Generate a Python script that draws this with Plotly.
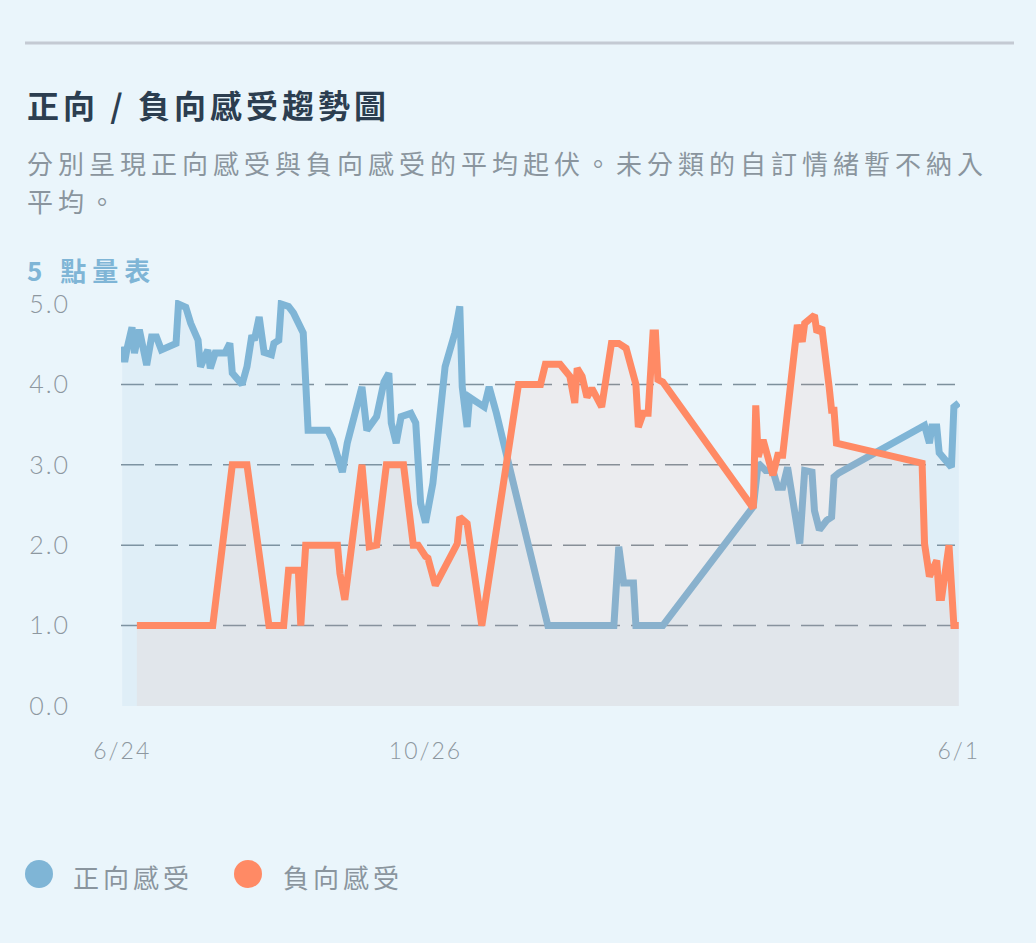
import plotly.graph_objects as go

# ---------------- data ----------------
pos_dates = [
    "2024-06-24", "2024-06-25", "2024-06-26", "2024-06-28", "2024-06-29", "2024-07-01",
    "2024-07-04", "2024-07-06", "2024-07-08", "2024-07-10", "2024-07-16", "2024-07-17",
    "2024-07-20", "2024-07-22", "2024-07-25", "2024-07-26", "2024-07-29", "2024-07-30",
    "2024-08-01", "2024-08-05", "2024-08-07", "2024-08-08", "2024-08-12", "2024-08-14",
    "2024-08-16", "2024-08-17", "2024-08-19", "2024-08-21", "2024-08-24", "2024-08-25",
    "2024-08-27", "2024-08-28", "2024-08-31", "2024-09-02", "2024-09-06", "2024-09-08",
    "2024-09-16", "2024-09-18", "2024-09-22", "2024-09-24", "2024-09-30", "2024-10-02",
    "2024-10-06", "2024-10-09", "2024-10-11", "2024-10-12", "2024-10-14", "2024-10-16",
    "2024-10-20", "2024-10-22", "2024-10-24", "2024-10-26", "2024-10-29", "2024-11-03",
    "2024-11-05", "2024-11-07", "2024-11-09", "2024-11-10", "2024-11-12", "2024-11-13",
    "2024-11-16", "2024-11-19", "2024-11-21", "2024-11-24", "2024-12-15", "2025-01-11",
    "2025-01-13", "2025-01-15", "2025-01-19", "2025-01-20", "2025-01-31", "2025-03-09",
    "2025-03-11", "2025-03-14", "2025-03-17", "2025-03-19", "2025-03-21", "2025-03-23",
    "2025-03-28", "2025-03-30", "2025-04-02", "2025-04-03", "2025-04-05", "2025-04-08",
    "2025-04-10", "2025-04-11", "2025-04-13", "2025-05-18", "2025-05-20", "2025-05-21",
    "2025-05-23", "2025-05-24", "2025-05-29", "2025-05-30", "2025-06-01",
]
pos_values = [
    4.47, 4.28, 4.45, 4.71, 4.39, 4.68,
    4.24, 4.59, 4.59, 4.43, 4.51, 5.0,
    4.96, 4.76, 4.55, 4.22, 4.43, 4.20,
    4.39, 4.39, 4.51, 4.14, 4.0, 4.22,
    4.61, 4.55, 4.84, 4.40, 4.37, 4.51,
    4.55, 5.0, 4.97, 4.89, 4.64, 3.43,
    3.43, 3.31, 2.91, 3.27, 3.97, 3.43,
    3.6, 4.03, 4.14, 3.52, 3.27, 3.6,
    3.64, 3.52, 2.52, 2.28, 2.77, 4.22,
    4.43, 4.64, 4.97, 3.97, 3.47, 3.84,
    3.78, 3.72, 3.97, 3.64, 1.0, 1.0,
    1.98, 1.53, 1.53, 1.0, 1.0, 2.48,
    3.02, 2.93, 2.93, 2.72, 2.72, 2.97,
    2.02, 2.93, 2.91, 2.43, 2.19, 2.31,
    2.35, 2.85, 2.9, 3.49, 3.27, 3.47,
    3.47, 3.15, 2.97, 3.72, 3.77,
]

neg_dates = [
    "2024-06-30", "2024-07-31", "2024-08-08", "2024-08-14", "2024-08-23", "2024-08-29",
    "2024-08-31", "2024-09-04", "2024-09-05", "2024-09-07", "2024-09-20", "2024-09-21",
    "2024-09-23", "2024-09-30", "2024-10-03", "2024-10-06", "2024-10-10", "2024-10-17",
    "2024-10-21", "2024-10-23", "2024-10-26", "2024-10-27", "2024-10-30", "2024-11-08",
    "2024-11-09", "2024-11-12", "2024-11-18", "2024-12-03", "2024-12-12", "2024-12-14",
    "2024-12-20", "2024-12-24", "2024-12-26", "2024-12-27", "2024-12-29", "2024-12-31",
    "2025-01-02", "2025-01-06", "2025-01-10", "2025-01-13", "2025-01-16", "2025-01-20",
    "2025-01-21", "2025-01-23", "2025-01-25", "2025-01-27", "2025-01-28", "2025-01-29",
    "2025-01-31", "2025-03-09", "2025-03-10", "2025-03-11", "2025-03-13", "2025-03-15",
    "2025-03-17", "2025-03-19", "2025-03-21", "2025-03-27", "2025-03-29", "2025-03-30",
    "2025-04-03", "2025-04-04", "2025-04-06", "2025-04-09", "2025-04-10", "2025-04-11",
    "2025-04-12", "2025-05-17", "2025-05-18", "2025-05-20", "2025-05-23", "2025-05-24",
    "2025-05-25", "2025-05-28", "2025-05-30", "2025-06-01",
]
neg_values = [
    1.0, 1.0, 3.0, 3.0, 1.0, 1.0,
    1.69, 1.69, 1.0, 2.0, 2.0, 1.65,
    1.32, 3.0, 1.98, 2.0, 3.0, 3.0,
    2.0, 2.0, 1.86, 1.84, 1.5, 2.02,
    2.35, 2.27, 1.0, 4.0, 4.0, 4.25,
    4.25, 4.1, 3.77, 4.2, 4.1, 3.84,
    3.95, 3.72, 4.51, 4.51, 4.45, 4.0,
    3.47, 3.64, 3.64, 4.64, 4.64, 4.06,
    4.03, 2.46, 3.74, 3.1, 3.31, 3.1,
    2.87, 3.12, 3.12, 4.74, 4.53, 4.76,
    4.86, 4.65, 4.71, 3.97, 3.68, 3.68,
    3.27, 3.02, 2.02, 1.61, 1.81, 1.35,
    1.35, 2.0, 1.0, 1.0,
]

series_names = ["正向感受", "負向感受"]
y_tick_vals = [0, 1, 2, 3, 4, 5]
y_tick_text = ["0.0", "1.0", "2.0", "3.0", "4.0", "5.0"]
grid_vals = [1, 2, 3, 4]
x_tick_vals = ["2024-06-24", "2024-10-26", "2025-06-01"]
x_tick_text = ["6/24", "10/26", "6/1"]

title_text = "正向 / 負向感受趨勢圖"
subtitle_lines = ["分別呈現正向感受與負向感受的平均起伏。未分類的自訂情緒暫不納入", "平均。"]
scale_label = "5 點量表"

# ---------------- style ----------------
BG = "#eaf5fb"
BLUE = "#7fb5d6"
ORANGE = "#ff8a65"
CJK = "Noto Sans CJK TC"

W, H = 1036, 943
L, R, T, B = 121, 76, 300, 237
PW, PH = W - L - R, H - T - B


def px_x(px):
    return (px - L) / PW


def px_y(py):
    return (H - B - py) / PH


def ls(text, sp):
    return f'<span style="letter-spacing:{sp}px">{text}</span>'


fig = go.Figure()
fig.add_trace(go.Scatter(
    x=pos_dates, y=pos_values, mode="lines", name=series_names[0],
    line=dict(color=BLUE, width=7), fill="tozeroy",
    fillcolor="rgba(127,181,214,0.10)", showlegend=False,
))
fig.add_trace(go.Scatter(
    x=neg_dates, y=neg_values, mode="lines", name=series_names[1],
    line=dict(color=ORANGE, width=7), fill="tozeroy",
    fillcolor="rgba(255,138,101,0.08)", showlegend=False,
))

shapes = []
for g in grid_vals:
    shapes.append(dict(type="line", xref="paper", yref="y", x0=0, x1=px_x(955),
                       y0=g, y1=g, layer="below",
                       line=dict(color="#7d909c", width=1.5, dash="23px,11px")))
# top separator
shapes.append(dict(type="line", xref="paper", yref="paper", x0=px_x(25), x1=px_x(1014),
                   y0=px_y(43), y1=px_y(43), line=dict(color="#c4cad3", width=3)))
# legend dots
annotations = []
for name, col, cx, tx in [(series_names[0], BLUE, 39, 71), (series_names[1], ORANGE, 248, 281)]:
    shapes.append(dict(type="circle", xref="paper", yref="paper",
                       xsizemode="pixel", ysizemode="pixel",
                       xanchor=px_x(cx), yanchor=px_y(874),
                       x0=-14, x1=14, y0=-14, y1=14,
                       fillcolor=col, line=dict(width=0)))
    annotations.append(dict(text=ls(name, 4), xref="paper", yref="paper",
                            x=px_x(tx), y=px_y(876), xanchor="left", yanchor="middle",
                            showarrow=False, font=dict(family=CJK, size=26, color="#8a959e")))

annotations.append(dict(text="<b>" + ls(title_text, 4) + "</b>", xref="paper", yref="paper",
                        x=px_x(25), y=px_y(104), xanchor="left", yanchor="middle",
                        showarrow=False, font=dict(family=CJK, size=32, color="#2c3e50")))
for line_text, py in zip(subtitle_lines, [162, 200]):
    annotations.append(dict(text=ls(line_text, 5), xref="paper", yref="paper",
                            x=px_x(25), y=px_y(py), xanchor="left", yanchor="middle",
                            showarrow=False, font=dict(family=CJK, size=26, color="#8a959e")))
annotations.append(dict(text="<b>" + ls(scale_label, 6) + "</b>", xref="paper", yref="paper",
                        x=px_x(25), y=px_y(269), xanchor="left", yanchor="middle",
                        showarrow=False, font=dict(family=CJK, size=26, color=BLUE)))

fig.update_layout(
    width=W, height=H,
    margin=dict(l=L, r=R, t=T, b=B, pad=0),
    paper_bgcolor=BG, plot_bgcolor="rgba(0,0,0,0)",
    showlegend=False,
    shapes=shapes, annotations=annotations,
    xaxis=dict(type="date", range=["2024-06-23 12:00", "2025-06-01 12:00"],
               tickvals=x_tick_vals, ticktext=[ls(t, 2) for t in x_tick_text],
               showgrid=False, zeroline=False, showline=False, ticks="",
               ticklabelstandoff=29,
               tickfont=dict(family="Lato", size=23, color="#8d979f", weight=300)),
    yaxis=dict(range=[0, 5.05], tickvals=y_tick_vals, ticktext=[ls(t, 2) for t in y_tick_text],
               showgrid=False, zeroline=False, showline=False, ticks="",
               ticklabelstandoff=50,
               tickfont=dict(family="Lato", size=25, color="#8d979f", weight=300)),
)

fig.write_html("out.html")
